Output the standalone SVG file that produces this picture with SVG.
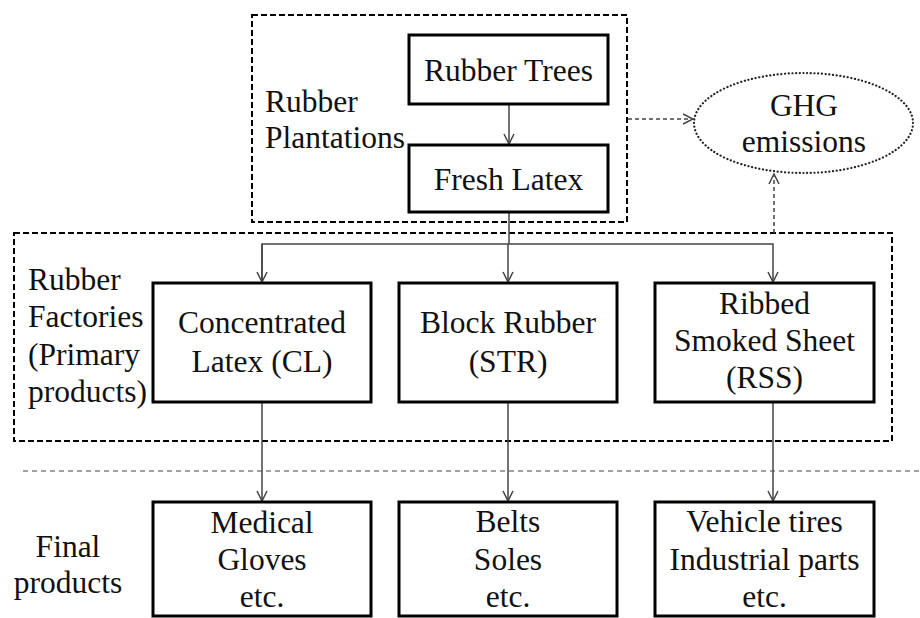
<svg xmlns="http://www.w3.org/2000/svg" width="920" height="618" viewBox="0 0 920 618">
  <style>
    text { font-family: 'Liberation Serif', 'Times New Roman', Tinos, 'DejaVu Serif', serif; font-size: 31.5px; fill: #111; }
    .mid { text-anchor: middle; }
    .box { fill: #fff; stroke: #000; stroke-width: 3; }
    .group { fill: none; stroke: #000; stroke-width: 2; stroke-dasharray: 6 3; }
    .sep { fill: none; stroke: #444; stroke-width: 1; stroke-dasharray: 5 4; }
    .flow { fill: none; stroke: #444; stroke-width: 1.5; }
    .emit { fill: none; stroke: #444; stroke-width: 1.5; stroke-dasharray: 4 3; }
    .dots { fill: #fff; stroke: #222; stroke-width: 2.2; stroke-dasharray: 0.1 3.6; stroke-linecap: round; }
  </style>
  <defs>
    <marker id="open" viewBox="0 0 12 12" refX="11" refY="6" markerWidth="12" markerHeight="12" markerUnits="userSpaceOnUse" orient="auto">
      <path d="M1,1 L11,6 L1,11" fill="none" stroke="#444" stroke-width="1.5"/>
    </marker>
  </defs>

  <rect width="920" height="618" fill="#fff"/>

  <g font-family="'Liberation Serif', 'Times New Roman', serif">
  <!-- grouping frames and the separator line -->
  <g id="plantations">
    <rect class="group" x="252" y="15" width="375" height="207"/>
    <text x="265" y="112">Rubber</text>
    <text x="265" y="148">Plantations</text>
  </g>
  <g id="factories">
    <rect class="group" x="14" y="233" width="878" height="208"/>
    <text x="28" y="290">Rubber</text>
    <text x="28" y="327">Factories</text>
    <text x="28" y="365">(Primary</text>
    <text x="28" y="402">products)</text>
  </g>
  <line class="sep" x1="23" y1="471" x2="920" y2="471"/>
  <g id="final-label">
    <text class="mid" x="68" y="557">Final</text>
    <text class="mid" x="68" y="593">products</text>
  </g>

  <!-- connectors -->
  <g id="connectors">
    <line class="flow" x1="509" y1="104" x2="509" y2="144" marker-end="url(#open)"/>
    <polyline class="flow" points="509,212 509,244"/>
    <polyline class="flow" points="262,282 262,244 773,244 773,282" marker-end="url(#open)"/>
    <line class="flow" x1="262" y1="244" x2="262" y2="282" marker-end="url(#open)"/>
    <line class="flow" x1="508" y1="244" x2="508" y2="282" marker-end="url(#open)"/>
    <line class="flow" x1="262" y1="402" x2="262" y2="501" marker-end="url(#open)"/>
    <line class="flow" x1="508" y1="402" x2="508" y2="501" marker-end="url(#open)"/>
    <line class="flow" x1="773" y1="402" x2="773" y2="501" marker-end="url(#open)"/>
    <line class="emit" x1="628" y1="119" x2="693" y2="119" marker-end="url(#open)"/>
    <line class="emit" x1="774" y1="233" x2="774" y2="174" marker-end="url(#open)"/>
  </g>

  <!-- nodes -->
  <g id="rubber-trees">
    <rect class="box" x="409" y="35" width="199" height="69"/>
    <text class="mid" x="508.5" y="81">Rubber Trees</text>
  </g>
  <g id="fresh-latex">
    <rect class="box" x="409" y="145" width="199" height="67"/>
    <text class="mid" x="508.5" y="190">Fresh Latex</text>
  </g>
  <g id="ghg">
    <ellipse class="dots" cx="803.5" cy="123" rx="109.5" ry="50"/>
    <text class="mid" x="804" y="116">GHG</text>
    <text class="mid" x="804" y="152">emissions</text>
  </g>
  <g id="cl">
    <rect class="box" x="153" y="283" width="218" height="119"/>
    <text class="mid" x="262" y="333">Concentrated</text>
    <text class="mid" x="262" y="372">Latex (CL)</text>
  </g>
  <g id="str">
    <rect class="box" x="399" y="283" width="218" height="119"/>
    <text class="mid" x="508" y="333">Block Rubber</text>
    <text class="mid" x="508" y="372">(STR)</text>
  </g>
  <g id="rss">
    <rect class="box" x="655" y="283" width="219" height="119"/>
    <text class="mid" x="764.5" y="314">Ribbed</text>
    <text class="mid" x="764.5" y="351">Smoked Sheet</text>
    <text class="mid" x="764.5" y="388">(RSS)</text>
  </g>
  <g id="gloves">
    <rect class="box" x="153" y="502" width="218" height="114"/>
    <text class="mid" x="262" y="533">Medical</text>
    <text class="mid" x="262" y="570">Gloves</text>
    <text class="mid" x="262" y="607">etc.</text>
  </g>
  <g id="belts">
    <rect class="box" x="399" y="502" width="218" height="114"/>
    <text class="mid" x="508" y="532">Belts</text>
    <text class="mid" x="508" y="570">Soles</text>
    <text class="mid" x="508" y="607">etc.</text>
  </g>
  <g id="tires">
    <rect class="box" x="655" y="502" width="219" height="114"/>
    <text class="mid" x="764.5" y="532">Vehicle tires</text>
    <text class="mid" x="764.5" y="570">Industrial parts</text>
    <text class="mid" x="764.5" y="607">etc.</text>
  </g>
  </g>
</svg>
